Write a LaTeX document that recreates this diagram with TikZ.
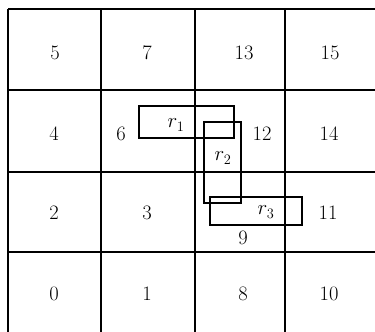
\documentclass[tikz,border=0pt]{standalone}
\begin{document}
\begin{tikzpicture}[x=1pt,y=-1pt,
  gridline/.style={line width=1.5pt,black},
  rectbox/.style={draw,line width=1.3pt,black},
  lbl/.style={inner sep=0pt,font=\fontsize{20.5}{24}\selectfont}]
\useasboundingbox (0,0) rectangle (375,332);
% grid
\draw[gridline] (8,9) -- (375,9);
\draw[gridline] (8,90) -- (375,90);
\draw[gridline] (8,172) -- (375,172);
\draw[gridline] (8,252) -- (375,252);
\draw[gridline] (8,9) -- (8,332);
\draw[gridline] (101,9) -- (101,332);
\draw[gridline,line width=1.1pt] (195,9) -- (195,332);
\draw[gridline] (285,9) -- (285,332);
% cell numbers
\node[lbl] (n5) at (55,53) {5};
\node[lbl] (n7) at (147,53) {7};
\node[lbl] (n13) at (244,53) {13};
\node[lbl] (n15) at (330,53) {15};
\node[lbl] (n4) at (54,134) {4};
\node[lbl] (n6) at (121,134) {6};
\node[lbl] (n12) at (262,134) {12};
\node[lbl] (n14) at (329,134) {14};
\node[lbl] (n2) at (54,213) {2};
\node[lbl] (n3) at (147,213) {3};
\node[lbl] (n11) at (328,213) {11};
\node[lbl] (n9) at (243,238) {9};
\node[lbl] (n0) at (54,294) {0};
\node[lbl] (n1) at (147,294) {1};
\node[lbl] (n8) at (243,294) {8};
\node[lbl] (n10) at (329,294) {10};
% rectangles
\draw[rectbox] (139,106) rectangle (234,138);
\draw[rectbox] (204,122) rectangle (241,203);
\draw[rectbox] (210,197) rectangle (302,225);
\node[lbl] (r1) at (176,125) {$r_1$};
\node[lbl] (r2) at (223,158) {$r_2$};
\node[lbl] (r3) at (266,212) {$r_3$};
\end{tikzpicture}
\end{document}
